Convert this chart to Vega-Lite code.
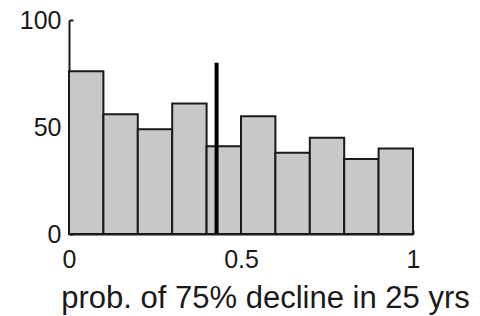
{
  "$schema": "https://vega.github.io/schema/vega-lite/v6.json",
  "width": 344,
  "height": 214,
  "autosize": "none",
  "padding": {"left": 69, "top": 20, "right": 67, "bottom": 82},
  "background": "white",
  "config": {
    "view": {"stroke": null},
    "font": "Liberation Sans",
    "axis": {
      "grid": false,
      "domainColor": "#1a1a1a",
      "domainWidth": 2,
      "tickColor": "#1a1a1a",
      "tickWidth": 2,
      "tickSize": -4,
      "labelColor": "#1a1a1a",
      "labelFont": "Liberation Sans",
      "labelFontSize": 25,
      "labelFlush": false,
      "titleColor": "#1a1a1a",
      "titleFont": "Liberation Sans",
      "titleFontWeight": "normal"
    }
  },
  "layer": [
    {
      "data": {
        "values": [
          {"bin_start": 0.0, "bin_end": 0.1, "count": 76},
          {"bin_start": 0.1, "bin_end": 0.2, "count": 56},
          {"bin_start": 0.2, "bin_end": 0.3, "count": 49},
          {"bin_start": 0.3, "bin_end": 0.4, "count": 61},
          {"bin_start": 0.4, "bin_end": 0.5, "count": 41},
          {"bin_start": 0.5, "bin_end": 0.6, "count": 55},
          {"bin_start": 0.6, "bin_end": 0.7, "count": 38},
          {"bin_start": 0.7, "bin_end": 0.8, "count": 45},
          {"bin_start": 0.8, "bin_end": 0.9, "count": 35},
          {"bin_start": 0.9, "bin_end": 1.0, "count": 40}
        ]
      },
      "mark": {"type": "rect", "fill": "#c8c8c8", "stroke": "#1a1a1a", "strokeWidth": 2},
      "encoding": {
        "x": {
          "field": "bin_start",
          "type": "quantitative",
          "scale": {"domain": [0, 1], "nice": false, "zero": false},
          "axis": {
            "values": [0, 0.5, 1],
            "format": "~g",
            "labelPadding": 17,
            "labelBaseline": "top",
            "title": "prob. of 75% decline in 25 yrs",
            "titleFontSize": 31,
            "titleAlign": "center",
            "titleBaseline": "alphabetic",
            "titleX": 196,
            "titleY": 73
          }
        },
        "x2": {"field": "bin_end"},
        "y": {
          "field": "count",
          "type": "quantitative",
          "scale": {"domain": [0, 100], "nice": false},
          "axis": {
            "values": [0, 50, 100],
            "labelPadding": 12,
            "title": null
          }
        },
        "y2": {"datum": 0}
      }
    },
    {
      "data": {"values": [{"value": 0.429, "top": 80, "base": 0}]},
      "mark": {"type": "rule", "color": "black", "strokeWidth": 4},
      "encoding": {
        "x": {"field": "value", "type": "quantitative"},
        "y": {"field": "top", "type": "quantitative"},
        "y2": {"field": "base"}
      }
    }
  ]
}
